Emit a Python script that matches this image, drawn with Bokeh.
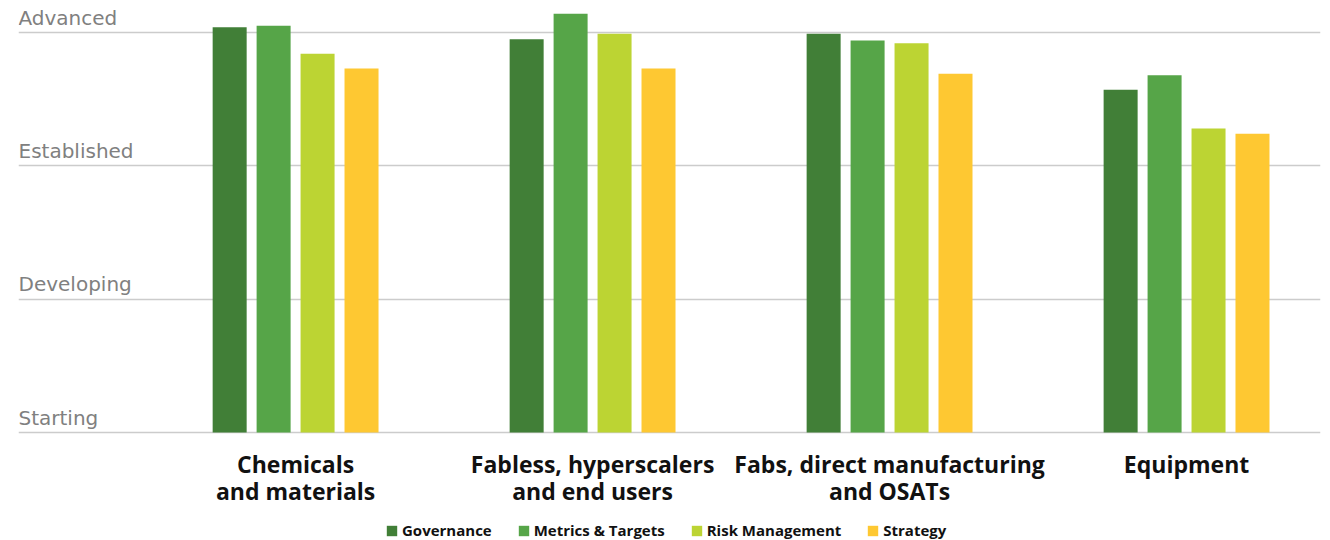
import numpy as np
from bokeh.plotting import figure
from bokeh.models import Range1d, Legend, LegendItem, ColumnDataSource, FixedTicker, Grid
from bokeh.core.properties import value
from bokeh.embed import file_html
from bokeh.resources import INLINE

categories = ["Chemicals\nand materials", "Fabless, hyperscalers\nand end users",
              "Fabs, direct manufacturing\nand OSATs", "Equipment"]
levels = ["Starting", "Developing", "Established", "Advanced"]
level_values = [1, 2, 3, 4]
series = ["Governance", "Metrics & Targets", "Risk Management", "Strategy"]
governance = [4.04, 3.95, 3.99, 3.57]
metrics_targets = [4.05, 4.14, 3.94, 3.68]
risk_management = [3.84, 3.99, 3.92, 3.28]
strategy = [3.73, 3.73, 3.69, 3.24]
colors = ["#417f37", "#56a548", "#bcd433", "#fec832"]

FONT = "Open Sans"

p = figure(width=1330, height=540, output_backend="svg", toolbar_location=None,
           x_range=Range1d(-0.933, 3.451), y_range=Range1d(0.19, 4.24),
           x_axis_location=None, y_axis_location=None,
           min_border_left=18, min_border_right=10, min_border_top=0, min_border_bottom=0)
p.outline_line_color = None
p.background_fill_color = "white"
for g in p.grid:
    g.visible = False

grid = Grid(dimension=1, ticker=FixedTicker(ticks=level_values),
            grid_line_color="#cccccc", grid_line_width=1.5)
p.add_layout(grid)

idx = np.arange(len(categories))
offsets = [-0.222, -0.074, 0.074, 0.222]
all_vals = [governance, metrics_targets, risk_management, strategy]
renderers = []
for name, vals, off, col in zip(series, all_vals, offsets, colors):
    src = ColumnDataSource(dict(x=idx + off, top=vals, bottom=[level_values[0]] * len(vals)))
    r = p.vbar(x="x", top="top", bottom="bottom", width=0.1145, source=src,
               fill_color=col, line_color=None)
    renderers.append(r)

# level labels
lsrc = ColumnDataSource(dict(x=[p.x_range.start] * len(levels), y=level_values, t=levels))
p.text(x="x", y="y", text="t", source=lsrc, text_font=value("DejaVu Sans"), text_font_size="20px",
       text_color="#808080", text_align="left", text_baseline="alphabetic", y_offset=-15)

# category labels
csrc = ColumnDataSource(dict(x=idx, y=[level_values[0]] * len(categories), t=categories))
p.text(x="x", y="y", text="t", source=csrc, text_font=value(FONT), text_font_size="23px",
       text_font_style="bold", text_color="#111111", text_align="center",
       text_baseline="top", y_offset=15, text_line_height=0.87)

legend = Legend(items=[LegendItem(label=s, renderers=[r]) for s, r in zip(series, renderers)],
                orientation="horizontal", location=(367, 0), padding=0, margin=0,
                border_line_color=None, background_fill_alpha=0,
                glyph_width=13, glyph_height=13, label_standoff=4, spacing=25,
                label_text_font=FONT, label_text_font_size="15px",
                label_text_font_style="bold", label_text_color="#111111", label_height=15)
p.add_layout(legend)

open("out.html", "w").write(file_html(p, INLINE))
